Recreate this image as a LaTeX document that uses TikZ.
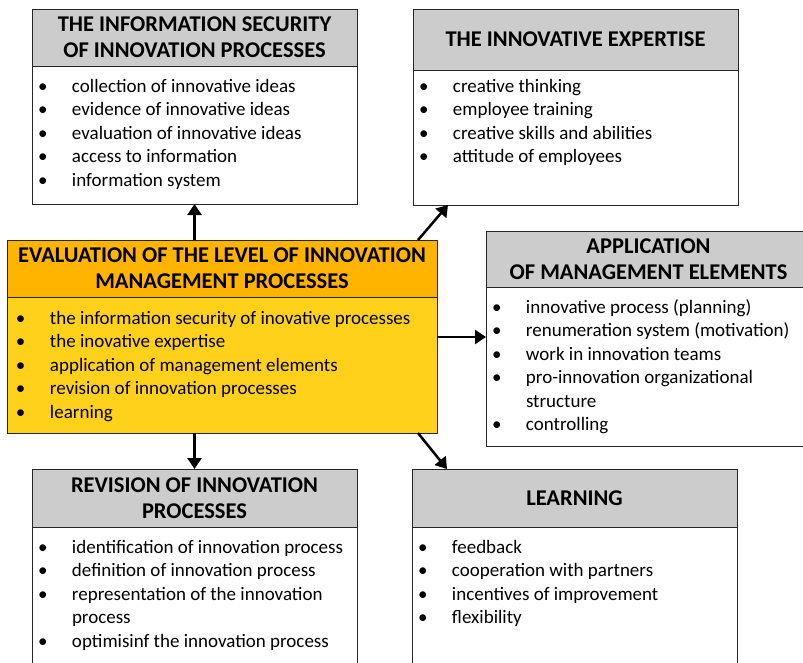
\documentclass[tikz,border=0pt]{standalone}
\usepackage{fontspec}
\setmainfont{Carlito}
\usetikzlibrary{positioning,arrows.meta}

\definecolor{headgray}{RGB}{204,204,204}
\definecolor{evalorange}{RGB}{255,180,0}
\definecolor{evalyellow}{RGB}{255,209,26}

\newcommand\itm[1]{\makebox[34pt][l]{\textbullet}\rule{0pt}{15pt}#1\par}
\newcommand\itmcont[1]{\hspace*{34pt}#1\par}
\newcommand\itemlist[4][10pt]{\parbox[c][#2][t]{#3}{\parindent=0pt\fontsize{19}{23.5}\selectfont\vspace*{#1}#4}}

\tikzset{
  head/.style={draw=black!85, line width=1pt, fill=headgray, anchor=north west,
    minimum width=325pt, inner sep=0pt, outer sep=0pt, align=center,
    font=\bfseries\fontsize{22.5}{26}\selectfont},
  listbody/.style={draw=black!85, line width=1pt, fill=white, minimum width=325pt,
    inner xsep=6pt, inner ysep=0pt, outer sep=0pt, below=0pt of #1},
  link/.style={line width=2.5pt, -{Triangle[length=11pt,width=14pt]}}
}

\begin{document}
\begin{tikzpicture}[x=1pt, y=-1pt]
  \useasboundingbox (0,0) rectangle (803,662);
  \clip (0,0) rectangle (803,662);

  \node[head, minimum height=57pt] (sechead) at (32,9)
    {THE INFORMATION SECURITY\\OF INNOVATION PROCESSES};
  \node[listbody=sechead] (secbody) {\itemlist[11pt]{138pt}{313pt}{%
    \itm{collection of innovative ideas}
    \itm{evidence of innovative ideas}
    \itm{evaluation of innovative ideas}
    \itm{access to information}
    \itm{information system}}};

  \node[head, minimum height=61pt] (exphead) at (413,9) {THE INNOVATIVE EXPERTISE};
  \node[listbody=exphead] (expbody) {\itemlist[7pt]{135pt}{313pt}{%
    \itm{creative thinking}
    \itm{employee training}
    \itm{creative skills and abilities}
    \itm{attitude of employees}}};

  \node[head, fill=evalorange, minimum width=430pt, minimum height=57pt] (evalhead) at (7,240)
    {EVALUATION OF THE LEVEL OF INNOVATION\\MANAGEMENT PROCESSES};
  \node[listbody=evalhead, fill=evalyellow, minimum width=430pt, inner xsep=9pt] (evalbody)
    {\itemlist[12pt]{136pt}{412pt}{%
    \itm{the information security of inovative processes}
    \itm{the inovative expertise}
    \itm{application of management elements}
    \itm{revision of innovation processes}
    \itm{learning}}};

  \node[head, minimum height=56pt] (apphead) at (486,231)
    {APPLICATION\\OF MANAGEMENT ELEMENTS};
  \node[listbody=apphead] (appbody) {\itemlist[11pt]{159pt}{313pt}{%
    \itm{innovative process (planning)}
    \itm{renumeration system (motivation)}
    \itm{work in innovation teams}
    \itm{pro-innovation organizational}
    \itmcont{structure}
    \itm{controlling}}};

  \node[head, minimum height=58pt] (revhead) at (32,469)
    {REVISION OF INNOVATION\\PROCESSES};
  \node[listbody=revhead] (revbody) {\itemlist[11pt]{200pt}{313pt}{%
    \itm{identification of innovation process}
    \itm{definition of innovation process}
    \itm{representation of the innovation}
    \itmcont{process}
    \itm{optimisinf the innovation process}}};

  \node[head, minimum height=58pt] (learnhead) at (412,469) {LEARNING};
  \node[listbody=learnhead] (learnbody) {\itemlist[11pt]{200pt}{313pt}{%
    \itm{feedback}
    \itm{cooperation with partners}
    \itm{incentives of improvement}
    \itm{flexibility}}};

  \draw[link] (sechead.south |- evalhead.north) -- (secbody.south);
  \draw[link] ([xshift=-19pt]evalhead.north east) -- ([xshift=35pt]expbody.south west);
  \draw[link] ([yshift=28pt]evalbody.east) coordinate (appstart) -- (appstart -| appbody.west);
  \draw[link] (revhead.north |- evalbody.south) -- (revhead.north);
  \draw[link] ([xshift=-19pt]evalbody.south east) -- ([xshift=35pt]learnhead.north west);
\end{tikzpicture}
\end{document}
